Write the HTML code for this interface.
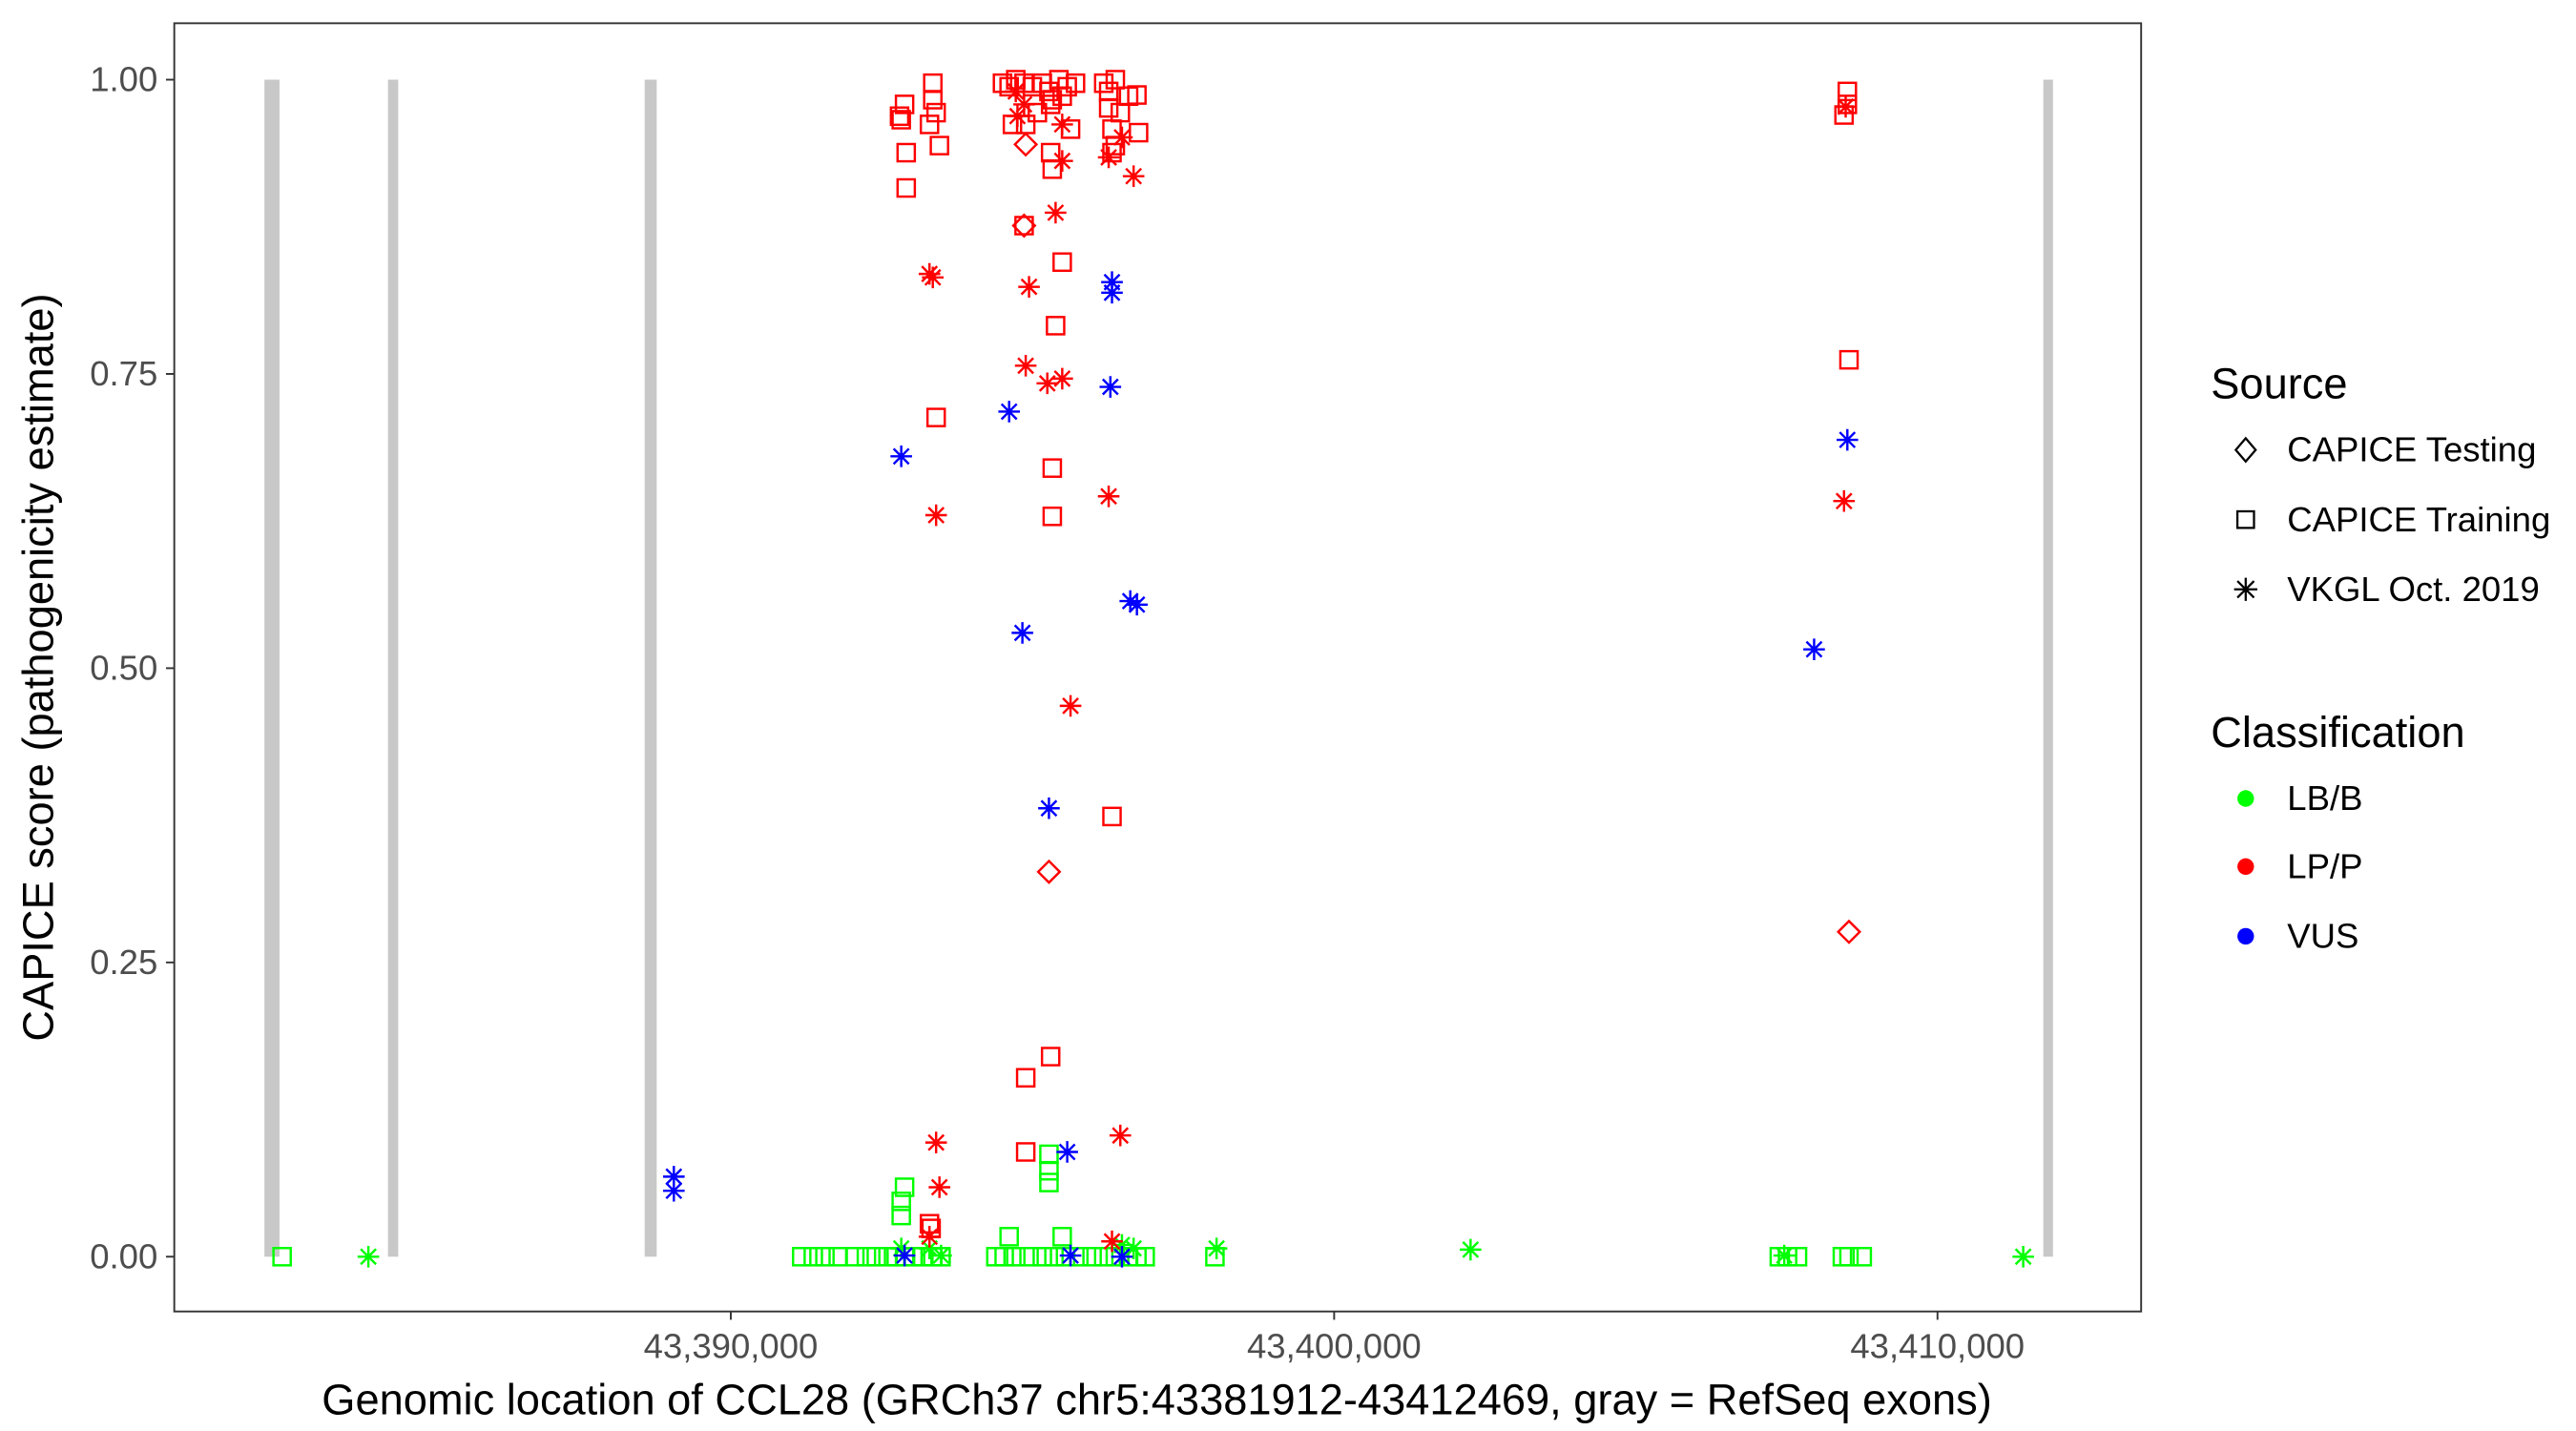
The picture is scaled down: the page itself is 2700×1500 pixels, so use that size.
<!DOCTYPE html>
<html><head><meta charset="utf-8"><style>html,body{margin:0;padding:0;background:#fff}svg{display:block}</style></head>
<body>
<svg id="chart" width="2700" height="1500" viewBox="0 0 1552 862" preserveAspectRatio="none" xmlns="http://www.w3.org/2000/svg" font-family="'Liberation Sans', Arial, sans-serif">
<rect x="0" y="0" width="1552" height="862" fill="#fff"/>
<g id="exons"></g>
<g id="points"></g>
<rect x="105" y="14" width="1185" height="776" fill="none" stroke="#333" stroke-width="1.1"/>
<g id="yaxis"></g>
<g id="xaxis"></g>
<text transform="translate(32,402) rotate(-90)" text-anchor="middle" font-size="26" fill="#000">CAPICE score (pathogenicity estimate)</text>
<text x="697" y="852" text-anchor="middle" font-size="26" fill="#000">Genomic location of CCL28 (GRCh37 chr5:43381912-43412469, gray = RefSeq exons)</text>
<g>
<text x="1332" y="240" font-size="26">Source</text>
<g><path d="M1353,264 l6,7 l-6,7 l-6,-7 z" fill="none" stroke="#000" stroke-width="1.3"/><text x="1378" y="278" font-size="21">CAPICE Testing</text></g>
<g><rect x="1348" y="308" width="10" height="10" fill="none" stroke="#000" stroke-width="1.3"/><text x="1378" y="320" font-size="21">CAPICE Training</text></g>
<g><path d="M1353,348v14M1346,355h14M1348,350l10,10M1358,350l-10,10" stroke="#000" stroke-width="1.3"/><text x="1378" y="362" font-size="21">VKGL Oct. 2019</text></g>
</g>
<g>
<text x="1332" y="450" font-size="26">Classification</text>
<g><circle cx="1353" cy="481" r="5" fill="#00ff00"/><text x="1378" y="488" font-size="21">LB/B</text></g>
<g><circle cx="1353" cy="522" r="5" fill="#ff0000"/><text x="1378" y="529" font-size="21">LP/P</text></g>
<g><circle cx="1353" cy="564" r="5" fill="#0000ff"/><text x="1378" y="571" font-size="21">VUS</text></g>
</g>
</svg>
<script>
const yTicks = [0, 0.25, 0.5, 0.75, 1.0];
const yTickLabels = ["0.00", "0.25", "0.50", "0.75", "1.00"];
const xTicks = [43390000, 43400000, 43410000];
const xTickLabels = ["43,390,000", "43,400,000", "43,410,000"];
const exonStarts = [43382395, 43384403, 43388672, 43411834];
const exonWidthsBp = [250, 170, 200, 160];
const pos = [
43382563,43383993,
43391175,43391367,43391560,43391780,43392055,43392247,43392412,43392605,43392742,43392880,43393018,43393183,43393348,43393485,
43392880,43392825,43392825,43392825,43393293,43393485,
43394393,43394531,43394723,43394943,43395163,43395356,43395548,43395768,43395988,43396181,43396373,43396593,43396731,43396868,
43394613,43395493,43395273,43395273,43395273,43396483,43396676,43398024,43398051,43402261,
43407378,43407515,43407680,43407460,43408423,43408533,43408753,43411421,
43389056,43389056,43392825,43392880,43394613,43394833,43395273,43395576,43395631,43396318,43396318,43396291,43396621,43396731,43396483,43408506,43407955,
43394503,43394613,43394723,43394861,43394998,43395163,43395273,43395438,43395576,43395713,43396181,43396263,43396373,43396593,43396731,43395328,43395493,43394668,43394888,43395081,43395301,43395631,43396263,43396318,43396456,
43392880,43392825,43392797,43393348,43393348,43393403,43393293,43393458,43392907,43392907,43395301,43395328,43396758,43396373,43396318,43394861,43395493,43395383,43393403,43395328,43395328,43396318,43395301,43394888,43394888,43393293,43393320,
43394888,43394861,43395273,43408533,
43394723,43394861,43394751,43395493,43395493,43396263,43396483,43396676,43395383,43394943,43393293,43393348,43394888,43395246,43395493,43396263,43393403,43395631,43393403,43396456,43393458,43393293,43396318,
43408506,43408506,43408451,43408533,43408478,43408451
];
const score = [
0,0,
0,0,0,0,0,0,0,0,0,0,0,0,0,0,
0.059,0.047,0.035,0.007,0.007,0.001,
0,0,0,0,0,0,0,0,0,0,0,0,0,0,
0.017,0.017,0.087,0.073,0.063,0.010,0.007,0,0.007,0.006,
0,0,0,0.001,0,0,0,0,
0.068,0.056,0.680,0.001,0.718,0.530,0.381,0.089,0.001,0.828,0.819,0.739,0.557,0.554,0,0.694,0.516,
0.997,0.994,1.0,0.997,0.994,0.997,0.990,1.0,0.994,0.997,0.997,0.990,1.0,0.986,0.987,0.983,0.986,0.962,0.962,0.972,0.979,0.958,0.976,0.958,0.972,
0.979,0.966,0.969,0.997,0.983,0.972,0.962,0.944,0.938,0.908,0.938,0.924,0.955,0.944,0.938,0.876,0.845,0.791,0.713,0.670,0.629,0.374,0.170,0.152,0.089,0.028,0.024,
0.945,0.876,0.327,0.276,
0.990,0.979,0.969,0.962,0.931,0.934,0.951,0.918,0.887,0.824,0.835,0.832,0.757,0.742,0.746,0.646,0.630,0.468,0.097,0.103,0.059,0.017,0.013,
0.990,0.979,0.970,0.762,0.977,0.642
];
const source = (
"SA"+"SSSSSSSSSSSSSS"+"SSSAAA"+"SSSSSSSSSSSSSS"+"SSSSSAASAA"+"SSSASSSA"+
"AAAAAAAAAAAAAAAAA"+
"SSSSSSSSSSSSSSSSSSSSSSSSS"+"SSSSSSSSSSSSSSSSSSSSSSSSSSS"+"DDDD"+
"AAAAAAAAAAAAAAAAAAAAAAA"+"SSSSAA").split("");
const cls = (
"BB"+"BBBBBBBBBBBBBB"+"BBBBBB"+"BBBBBBBBBBBBBB"+"BBBBBBBBBB"+"BBBBBBBB"+
"VVVVVVVVVVVVVVVVV"+
"PPPPPPPPPPPPPPPPPPPPPPPPP"+"PPPPPPPPPPPPPPPPPPPPPPPPPPP"+"PPPP"+
"PPPPPPPPPPPPPPPPPPPPPPP"+"PPPPPP").split("");

const NS = "http://www.w3.org/2000/svg";
const X0 = 43390000, PX0 = 440.3, BP_PER_PX = 27.51;
function xs(p){ return PX0 + (p - X0) / BP_PER_PX; }
function ys(s){ return 757 - s * 709; }
const colors = {B:"#00ff00", P:"#ff0000", V:"#0000ff"};
function mk(tag, attrs, parent){ const e=document.createElementNS(NS,tag); for(const k in attrs) e.setAttribute(k,attrs[k]); parent.appendChild(e); return e; }

const ex = document.getElementById("exons");
exonStarts.forEach((s,i)=>{
  const x1 = xs(s), w = Math.max(exonWidthsBp[i]/BP_PER_PX, 5);
  const r = mk("rect",{x:x1-w/2,y:ys(1),width:w,height:ys(0)-ys(1),fill:"#c8c8c8"},ex);
  
  
});

const yg = document.getElementById("yaxis");
yTicks.forEach((t,i)=>{
  const y = ys(t);
  const l = mk("line",{x1:100,x2:105,y1:y,y2:y,stroke:"#333","stroke-width":1.1},yg);
  
  
  const tx = mk("text",{x:95,y:y+7,"text-anchor":"end","font-size":21,fill:"#4d4d4d"},yg);
  tx.textContent = yTickLabels[i];
  
  
});
const xg = document.getElementById("xaxis");
xTicks.forEach((t,i)=>{
  const x = xs(t);
  const l = mk("line",{x1:x,x2:x,y1:790,y2:795,stroke:"#333","stroke-width":1.1},xg);
  
  
  const tx = mk("text",{x:x,y:818,"text-anchor":"middle","font-size":21,fill:"#4d4d4d"},xg);
  tx.textContent = xTickLabels[i];
  
  
});

const pg = document.getElementById("points");
for(let i=0;i<pos.length;i++){
  const x = xs(pos[i]), y = ys(score[i]), c = colors[cls[i]], s = source[i];
  let el;
  if(s==="S"){
    el = mk("rect",{x:x-5.2,y:y-5.2,width:10.4,height:10.4,fill:"none",stroke:c,"stroke-width":1.4},pg);
  } else if(s==="D"){
    el = mk("path",{d:`M${x},${y-6.5}L${x+6.5},${y}L${x},${y+6.5}L${x-6.5},${y}Z`,fill:"none",stroke:c,"stroke-width":1.4},pg);
  } else {
    const r=6.5, d=4.6;
    el = mk("path",{d:`M${x},${y-r}V${y+r}M${x-r},${y}H${x+r}M${x-d},${y-d}L${x+d},${y+d}M${x+d},${y-d}L${x-d},${y+d}`,stroke:c,"stroke-width":1.4,fill:"none"},pg);
  }
  
  
}
</script>
</body></html>
